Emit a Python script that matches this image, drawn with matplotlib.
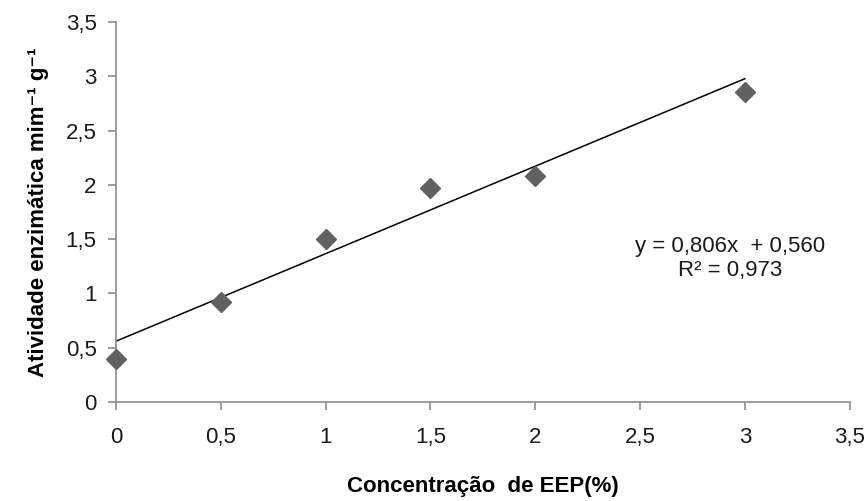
import matplotlib
matplotlib.use('Agg')
import matplotlib.pyplot as plt
import numpy as np

# dados
concentracao = [0, 0.5, 1, 1.5, 2, 3]
atividade = [0.40, 0.92, 1.50, 1.97, 2.08, 2.86]

# linha de tendência (equação mostrada no gráfico)
inclinacao = 0.806
intercepto = 0.560
r2 = 0.973

ticks = [0, 0.5, 1, 1.5, 2, 2.5, 3, 3.5]
tick_labels = ['0', '0,5', '1', '1,5', '2', '2,5', '3', '3,5']

plt.rcParams['font.family'] = ['Liberation Sans', 'DejaVu Sans']

fig = plt.figure(figsize=(8.67, 5.01), dpi=100)
ax = fig.add_axes([0.1338, 0.1976, 0.8462, 0.7584])

x_linha = np.array([min(concentracao), max(concentracao)])
ax.plot(x_linha, inclinacao * x_linha + intercepto, color='black', linewidth=1.1, zorder=2)
ax.plot(concentracao, atividade, linestyle='none', marker='D', markersize=10,
        color='#616161', markeredgecolor='#616161', zorder=3, clip_on=False)

ax.set_xlim(0, 3.5)
ax.set_ylim(0, 3.5)
ax.set_xticks(ticks)
ax.set_xticklabels(tick_labels)
ax.set_yticks(ticks)
ax.set_yticklabels(tick_labels)

for lado in ['top', 'right']:
    ax.spines[lado].set_visible(False)
for lado in ['left', 'bottom']:
    ax.spines[lado].set_color('#8c8c8c')
    ax.spines[lado].set_linewidth(1.2)
ax.tick_params(axis='both', colors='#8c8c8c', length=6, width=1.2, labelsize=16,
               labelcolor='#1a1a1a')
ax.tick_params(axis='x', pad=12)
ax.tick_params(axis='y', pad=8)

ax.set_xlabel('Concentração  de EEP(%)', fontsize=16, fontweight='bold', labelpad=20)
ax.set_ylabel('Atividade enzimática mim⁻¹ g⁻¹', fontsize=16, fontweight='bold', labelpad=12)

eq = f'y = {inclinacao:.3f}x  + {intercepto:.3f}'.replace('.', ',')
ax.text(2.93, 1.43, eq, ha='center', va='center', fontsize=16, color='#1a1a1a')
ax.text(2.93, 1.215, f'R² = {r2:.3f}'.replace('.', ','), ha='center', va='center',
        fontsize=16, color='#1a1a1a')

plt.savefig('out.png', dpi=100)
